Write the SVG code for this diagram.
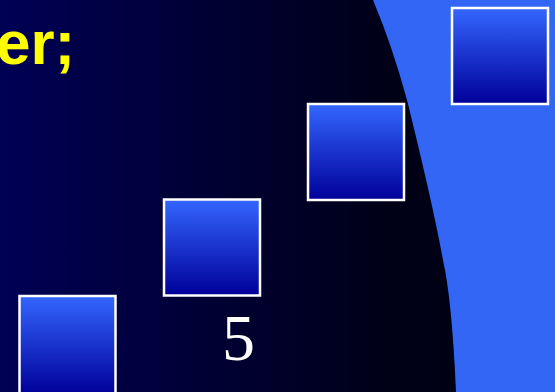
<svg xmlns="http://www.w3.org/2000/svg" width="555" height="392" viewBox="0 0 555 392">
  <defs>
    <linearGradient id="bg" x1="0" y1="0" x2="1" y2="0">
      <stop offset="0" stop-color="#000055"/>
      <stop offset="0.7" stop-color="#000018"/>
      <stop offset="1" stop-color="#000010"/>
    </linearGradient>
    <linearGradient id="box" x1="0" y1="0" x2="0" y2="1">
      <stop offset="0" stop-color="#3366ff"/>
      <stop offset="1" stop-color="#000099"/>
    </linearGradient>
  </defs>
  <style>
    .box { fill: url(#box); stroke: #ffffff; stroke-width: 2.5; }
    .title { font-family: "Liberation Sans", Arial, sans-serif; font-weight: bold; fill: #ffff00; }
    .num { font-family: "Liberation Serif", "Times New Roman", serif; fill: #ffffff; }
  </style>
  <rect x="0" y="0" width="555" height="392" fill="url(#bg)"/>
  <path id="arc" d="M373,0 L555,0 L555,392 L456,392 Q452,300 443,260 Q433,205 407,100 Q392,45 373,0 Z" fill="#3366f5"/>
  <text class="title" x="-4" y="64" font-size="62">er;</text>
  <g id="box1"><rect class="box" x="19.5" y="296" width="96" height="98"/></g>
  <g id="box2"><rect class="box" x="164" y="199.5" width="96" height="96"/></g>
  <g id="box3"><rect class="box" x="308" y="104" width="96" height="96"/></g>
  <g id="box4"><rect class="box" x="452" y="8" width="96" height="96"/></g>
  <text class="num" x="222" y="360" font-size="66">5</text>
</svg>
